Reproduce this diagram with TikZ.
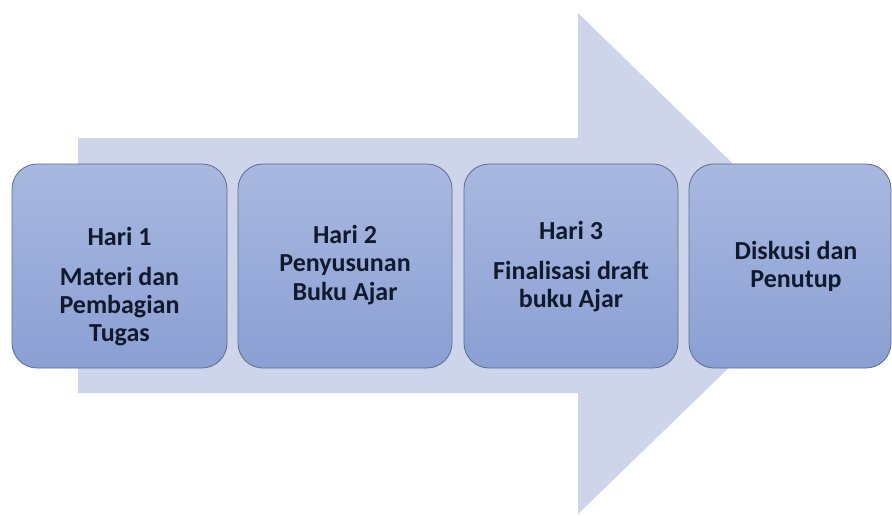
\documentclass[tikz,border=0pt]{standalone}
\usepackage{fontspec}
\setmainfont{Carlito}
\begin{document}
\begin{tikzpicture}[x=1pt,y=-1pt,
  stagebox/.style={rounded corners=25pt, draw=boxline, line width=0.8pt,
    top color=boxtop, bottom color=boxbot},
  txt/.style={anchor=base, inner sep=0pt, font=\fontsize{26}{28}\selectfont\bfseries, text=txtcol}]
\definecolor{arrowcol}{HTML}{CED5EB}
\definecolor{boxtop}{HTML}{A9B8E0}
\definecolor{boxbot}{HTML}{8A9FD3}
\definecolor{boxline}{HTML}{5E6C8E}
\definecolor{txtcol}{HTML}{111A2C}
\useasboundingbox (0,0) rectangle (892,515);
\fill[white] (0,0) rectangle (892,515);
% big arrow
\fill[arrowcol] (78,138) -- (578,138) -- (578,13) -- (836,264) -- (578,514) -- (578,393) -- (78,393) -- cycle;
% boxes
\draw[stagebox] (12,164) rectangle (227,368);
\draw[stagebox] (238,164) rectangle (452,368);
\draw[stagebox] (464,164) rectangle (678,368);
\draw[stagebox] (689,164) rectangle (891,368);
% texts
\node[txt] (t1a) at (119.5,245) {Hari 1};
\node[txt] (t1b) at (119.5,285) {Materi dan};
\node[txt] (t1c) at (119.5,313) {Pembagian};
\node[txt] (t1d) at (119.5,341) {Tugas};
\node[txt] (t2a) at (345,243) {Hari 2};
\node[txt] (t2b) at (345,271) {Penyusunan};
\node[txt] (t2c) at (345,300) {Buku Ajar};
\node[txt] (t3a) at (571,239) {Hari 3};
\node[txt] (t3b) at (571,279) {Finalisasi draft};
\node[txt] (t3c) at (571,307) {buku Ajar};
\node[txt] (t4a) at (796,259) {Diskusi dan};
\node[txt] (t4b) at (796,287) {Penutup};
\end{tikzpicture}
\end{document}
